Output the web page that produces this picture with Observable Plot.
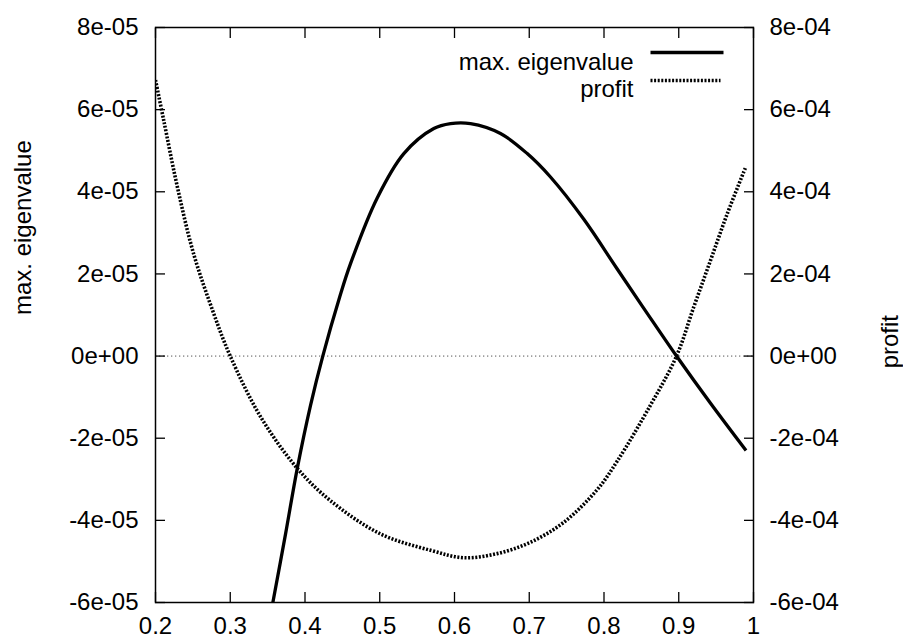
<!DOCTYPE html>
<html>
<head>
<meta charset="utf-8">
<script src="https://cdn.jsdelivr.net/npm/d3@7"></script>
<script src="https://cdn.jsdelivr.net/npm/@observablehq/plot@0.6"></script>
<style>
  html, body { margin: 0; padding: 0; background: #fff; }
</style>
</head>
<body>
<div id="chart"></div>
<script>
// ---- data ----
const eigX = [0.357, 0.374, 0.3896, 0.4074, 0.4238, 0.4466, 0.4609, 0.4966, 0.5322, 0.5723, 0.5947, 0.6214, 0.6615, 0.6973, 0.7284, 0.773, 0.8177, 0.8578, 0.897, 0.9425, 0.99];
const eigY = [-6.0e-5, -4.33e-5, -2.74e-5, -1.20e-5, 0, 1.45e-5, 2.25e-5, 3.85e-5, 4.93e-5, 5.54e-5, 5.66e-5, 5.66e-5, 5.42e-5, 4.93e-5, 4.36e-5, 3.33e-5, 2.12e-5, 1.04e-5, 0, -1.15e-5, -2.30e-5];

const profitX = [0.2, 0.211, 0.229, 0.251, 0.278, 0.300, 0.341, 0.390, 0.434, 0.501, 0.568, 0.6125, 0.657, 0.702, 0.746, 0.791, 0.818, 0.862, 0.897, 0.920, 0.9425, 0.965, 0.99];
const profitY = [6.72e-4, 5.74e-4, 4.14e-4, 2.49e-4, 1.03e-4, 0, -1.49e-4, -2.74e-4, -3.52e-4, -4.33e-4, -4.73e-4, -4.91e-4, -4.81e-4, -4.53e-4, -4.05e-4, -3.25e-4, -2.55e-4, -1.20e-4, 0, 1.19e-4, 2.33e-4, 3.47e-4, 4.62e-4];

const xTicks = [0.2, 0.3, 0.4, 0.5, 0.6, 0.7, 0.8, 0.9, 1];
const xTickLabels = ["0.2", "0.3", "0.4", "0.5", "0.6", "0.7", "0.8", "0.9", "1"];
const yLeftTicks = [-6e-5, -4e-5, -2e-5, 0, 2e-5, 4e-5, 6e-5, 8e-5];
const yLeftLabels = ["-6e-05", "-4e-05", "-2e-05", "0e+00", "2e-05", "4e-05", "6e-05", "8e-05"];
const yRightTicks = [-6e-4, -4e-4, -2e-4, 0, 2e-4, 4e-4, 6e-4, 8e-4];
const yRightLabels = ["-6e-04", "-4e-04", "-2e-04", "0e+00", "2e-04", "4e-04", "6e-04", "8e-04"];
const seriesNames = ["max. eigenvalue", "profit"];
const leftTitle = "max. eigenvalue";
const rightTitle = "profit";

// ---- build ----
const ratio = 10; // right axis / left axis
const eig = eigX.map((x, i) => ({x, y: eigY[i]}));
const prof = profitX.map((x, i) => ({x, y: profitY[i] / ratio}));
const rightTicksScaled = yRightTicks.map(v => v / ratio);

const xLabelMap = new Map(xTicks.map((t, i) => [t, xTickLabels[i]]));
const yLeftMap = new Map(yLeftTicks.map((t, i) => [t, yLeftLabels[i]]));
const yRightMap = new Map(rightTicksScaled.map((t, i) => [t, yRightLabels[i]]));

const lineShape = { draw(context, l) { context.moveTo(0, 0); context.lineTo(0, -l); } };
const font = "'Liberation Sans', Arial, Helvetica, sans-serif";
const dash = "2,1.6";

const chart = Plot.plot({
  width: 903,
  height: 637,
  marginLeft: 155,
  marginRight: 150,
  marginTop: 27,
  marginBottom: 35,
  style: {fontFamily: font, fontSize: "24px", background: "white", color: "black", overflow: "visible"},
  x: {domain: [0.2, 1], label: null},
  y: {domain: [-6e-5, 8e-5], label: null},
  marks: [
    Plot.ruleY([0], {stroke: "#555", strokeWidth: 1, strokeDasharray: "1.3,2.7"}),
    Plot.line(prof, {x: "x", y: "y", stroke: "black", strokeWidth: 3.6, strokeDasharray: dash, strokeLinecap: "butt", curve: "catmull-rom", clip: true}),
    Plot.line(eig, {x: "x", y: "y", stroke: "black", strokeWidth: 3.3, strokeLinecap: "butt", curve: "catmull-rom", clip: true}),
    Plot.frame({stroke: "black", strokeWidth: 1.5}),
    Plot.axisX(xTicks, {anchor: "bottom", tickSize: -10, tickPadding: 24, strokeWidth: 1.3, tickFormat: d => xLabelMap.get(d), label: null}),
    Plot.axisX(xTicks, {anchor: "top", tickSize: -10, strokeWidth: 1.3, fill: "none", label: null}),
    Plot.axisY(yLeftTicks, {anchor: "left", tickSize: -10, tickPadding: 27, strokeWidth: 1.3, tickFormat: d => yLeftMap.get(d), label: null}),
    Plot.axisY(rightTicksScaled, {anchor: "right", tickSize: -10, tickPadding: 26, strokeWidth: 1.3, tickFormat: d => yRightMap.get(d), label: null}),
    Plot.text([leftTitle], {frameAnchor: "left", dx: -132, rotate: -90, fill: "black"}),
    Plot.text([rightTitle], {frameAnchor: "right", dx: 137, rotate: -90, fill: "black"}),
    // legend
    Plot.text([seriesNames[0]], {frameAnchor: "top-right", textAnchor: "end", dx: -120, dy: 25, fill: "black"}),
    Plot.text([seriesNames[1]], {frameAnchor: "top-right", textAnchor: "end", dx: -120, dy: 52, fill: "black"}),
    Plot.vector([seriesNames[0]], {frameAnchor: "top-right", dx: -103, dy: 25, length: 73, rotate: 90, anchor: "start", shape: lineShape, stroke: "black", strokeWidth: 3.3, strokeLinecap: "butt"}),
    Plot.vector([seriesNames[1]], {frameAnchor: "top-right", dx: -103, dy: 53, length: 70, rotate: 90, anchor: "start", shape: lineShape, stroke: "black", strokeWidth: 3.6, strokeLinecap: "butt", strokeDasharray: dash})
  ]
});
document.getElementById("chart").appendChild(chart);
</script>
</body>
</html>
